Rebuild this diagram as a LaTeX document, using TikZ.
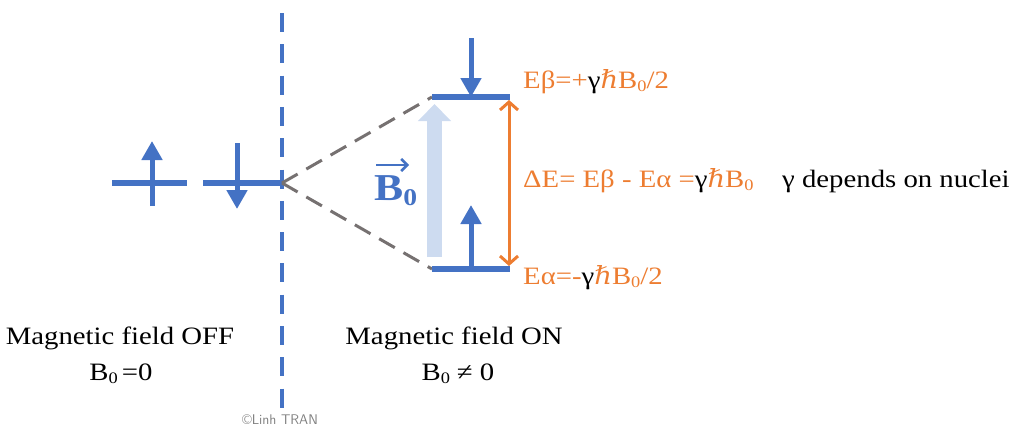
\documentclass[tikz,border=0pt]{standalone}
\usepackage{fontspec}
\setmainfont[FakeStretch=1.15]{Liberation Serif}
\newfontfamily\djv[FakeStretch=1.1]{DejaVu Serif}
\usetikzlibrary{arrows.meta}
\definecolor{myblue}{HTML}{4472C4}
\definecolor{myorange}{HTML}{ED7D31}
\definecolor{lightb}{HTML}{CDDBF0}
\definecolor{mygray}{HTML}{767171}
\newcommand\zsub{\raisebox{-0.3ex}{\fontsize{16}{16}\selectfont 0}}
\newcommand\hb{{\djv\itshape ℏ}}
\begin{document}
\begin{tikzpicture}[x=1pt,y=-1pt,
  level/.style={myblue,line width=5.5pt},
  spin/.style={myblue,line width=5pt,-{Triangle[width=20pt,length=19pt]}},
  vdash/.style={myblue,line width=3.5pt,dash pattern=on 19pt off 12.3pt},
  gdash/.style={mygray,line width=3pt,dash pattern=on 18pt off 10pt},
  lbl/.style={font=\fontsize{25}{30}\selectfont,inner sep=0pt},
  olbl/.style={lbl,text=myorange,anchor=base west}]
\useasboundingbox (0,0) rectangle (1027,426);
% vertical dashed line
\coordinate (vt) at (282,13);
\coordinate (vb) at (282,408);
\draw[vdash] (vt) -- (vb);
% left levels
\coordinate (l1a) at (112,183); \coordinate (l1b) at (187,183);
\coordinate (l2a) at (203,183); \coordinate (l2b) at (282,183);
\draw[level] (l1a) -- (l1b);
\draw[level] (l2a) -- (l2b);
\coordinate (u1s) at (152,206); \coordinate (u1e) at (152,141);
\coordinate (d1s) at (237,143); \coordinate (d1e) at (237,209);
\draw[spin] (u1s) -- (u1e);
\draw[spin] (d1s) -- (d1e);
% right levels
\coordinate (hia) at (432,97); \coordinate (hib) at (510,97);
\coordinate (loa) at (432,269); \coordinate (lob) at (510,269);
\draw[gdash] (l2b) -- (hia);
\draw[gdash] (l2b) -- (loa);
% light blue B0 arrow
\coordinate (bs) at (434.5,257); \coordinate (be) at (434.5,104);
\draw[lightb,line width=15pt,-{Triangle[width=32pt,length=17pt]}] (bs) -- (be);
\draw[level] (hia) -- (hib);
\draw[level] (loa) -- (lob);
\coordinate (d2s) at (471,38); \coordinate (d2e) at (471,97);
\coordinate (u2s) at (471,269); \coordinate (u2e) at (471,205);
\draw[spin] (d2s) -- (d2e);
\draw[spin] (u2s) -- (u2e);
% orange double arrow
\coordinate (os) at (509,100); \coordinate (oe) at (509,266);
\draw[myorange,line width=3pt,{Straight Barb[length=8pt,width=18pt]}-{Straight Barb[length=8pt,width=18pt]}] (os) -- (oe);
% B0 label
\node[inner sep=0pt,anchor=base west,text=myblue,font=\fontsize{38}{40}\selectfont\bfseries] (b0) at (374,200) {B\raisebox{-0.3ex}{\fontsize{24}{24}\selectfont 0}};
\coordinate (ba) at (376,165); \coordinate (bb) at (409,165);
\draw[myblue,line width=2.5pt,-{Straight Barb[length=6pt,width=12pt]}] (ba) -- (bb);
% orange labels
\node[olbl] (eb) at (523,88) {Eβ=+\textcolor{black}{γ}\hb B\zsub/2};
\node[olbl] (ea) at (523,284) {Eα=-\textcolor{black}{γ}\hb B\zsub/2};
\node[olbl] (de) at (523,187) {ΔE= Eβ - Eα =\textcolor{black}{γ}\hb B\zsub};
\node[lbl,anchor=base west] (gd) at (782,187) {γ depends on nuclei};
% bottom labels
\node[lbl,anchor=base] (off) at (120,344) {Magnetic field OFF};
\node[lbl,anchor=base] (offb) at (121,380) {B\zsub\,=0};
\node[lbl,anchor=base] (on) at (454,344) {Magnetic field ON};
\node[lbl,anchor=base] (onb) at (458,380) {B\zsub\;≠ 0};
\node[inner sep=0pt,text=gray,font=\sffamily\fontsize{14}{15}\selectfont] (cr) at (280,420) {©Linh TRAN};
\end{tikzpicture}
\end{document}
